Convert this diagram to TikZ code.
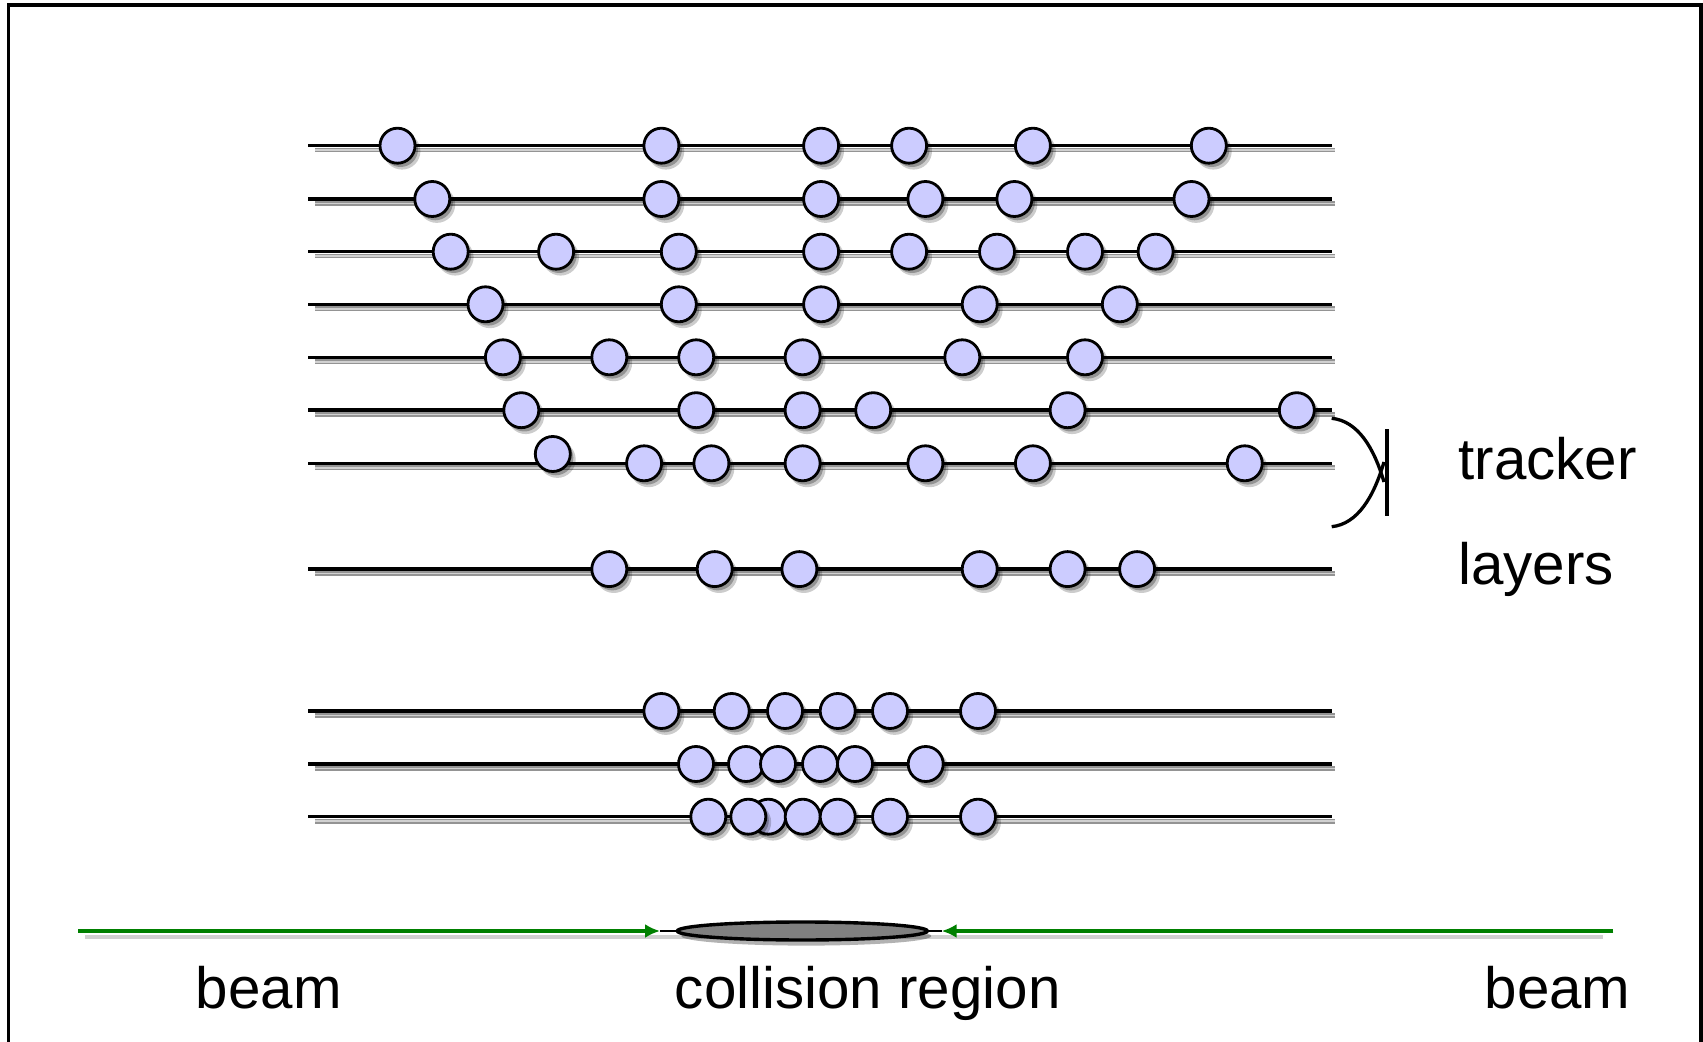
\documentclass[tikz,border=0pt]{standalone}
\usepackage{fontspec}
\setmainfont{Liberation Sans}
\usetikzlibrary{arrows.meta,shapes.geometric}
\definecolor{hitfill}{RGB}{204,204,255}
\definecolor{beamgreen}{RGB}{0,128,0}
\definecolor{collfill}{RGB}{128,128,128}
\definecolor{beamshadow}{RGB}{208,208,208}
\begin{document}
\begin{tikzpicture}[x=0.5pt,y=-0.5pt,
  layerline/.style={line width=1.75pt,black},
  layershadowA/.style={line width=2.3pt,black!42},
  layershadowB/.style={line width=0.8pt,black!18},
  hit/.style={fill=hitfill,draw=black,line width=1.4pt},
  hitshadowA/.style={fill=black,opacity=0.2},
  hitshadowB/.style={fill=black,opacity=0.28},
  lbl/.style={inner sep=0pt,font=\fontsize{29.15}{35}\selectfont},
  beamline/.style={line width=2pt,beamgreen,-{Latex[length=7.5pt,width=7pt]}},
  bracket/.style={line width=1.65pt,black},
  frame/.style={line width=1.7pt,black}
 ]
\path[use as bounding box] (0,0) rectangle (1703,1042);
\clip (0,0) rectangle (1703,1042);
\fill[white] (0,0) rectangle (1703,1042);
% frame (open at the bottom)
\draw[frame] (8.3,1060) -- (8.3,5) -- (1701,5) -- (1701,1060);

% tracker layers
\foreach \yy in {145.7,199,251.7,304.3,357.3,410.2,463.3,569.1,711,764,816.7}{
  \draw[layershadowA] (315,\yy+4.5) -- (1335,\yy+4.5);
  \draw[layershadowB] (315,\yy+4.5) -- (1335,\yy+4.5);
  \draw[layerline] (308.3,\yy) -- (1331.7,\yy);
}

% hits
\foreach \yy/\xs in {
  145.7/{397.5,661.4,821.1,909.1,1032.9,1208.8},
  199/{432.3,661.4,821.1,925.4,1014.4,1191.5},
  251.7/{450.7,556.1,678.8,821.1,909.1,997.0,1085.0,1155.6},
  304.3/{485.5,678.8,821.1,979.7,1119.8},
  357.3/{502.9,609.3,696.2,802.6,962.3,1085.0},
  410.2/{521.3,696.2,802.6,873.2,1067.6,1296.8},
  463.3/{644.1,711.4,802.6,925.4,1032.9,1244.7},
  569.1/{609.3,714.7,799.4,979.7,1067.6,1137.1},
  711/{661.4,731.7,785,837.7,890,978},
  764/{696,746,778,820,855,925.7},
  816.7/{768.3,708.3,748.3,802.7,837.7,890,978}}{
  \foreach \xx in \xs {
    \fill[hitshadowA] (\xx+4.5,\yy+5.5) circle[radius=9.2pt];
    \fill[hitshadowB] (\xx+3,\yy+3.8) circle[radius=8.75pt];
    \draw[hit] (\xx,\yy) circle[radius=8.75pt];
  }
}
% the raised hit on the seventh layer
\fill[hitshadowA] (552.8+4.5,454+5.5) circle[radius=9.2pt];
\fill[hitshadowB] (552.8+3,454+3.8) circle[radius=8.75pt];
\draw[hit] (552.8,454) circle[radius=8.75pt];

% bracket pointing at the tracker layers
\draw[bracket] (1331.7,418.3) .. controls (1358,421) and (1374,448) .. (1384,482);
\draw[bracket] (1331.7,526.7) .. controls (1358,524) and (1374,496) .. (1384,462);
\draw[line width=2pt] (1387,429.3) -- (1387,516);

% beams and collision region
\draw[line width=2pt,beamshadow] (85,937) -- (1603,937);
\fill[black,opacity=0.3] (806.3,936) ellipse[x radius=62.5pt,y radius=4.8pt];
\node[ellipse,draw=black,line width=1.7pt,fill=collfill,minimum width=125pt,minimum height=9pt,inner sep=0pt] (coll) at (802.3,931) {};
\coordinate (bL) at (78.3,931);
\coordinate (tipL) at (660,931);
\coordinate (bR) at (1613.3,931);
\coordinate (tipR) at (941.7,931);
\draw[beamline] (bL) -- (tipL);
\draw[beamline] (bR) -- (tipR);
\draw[line width=0.6pt] (tipL) -- (coll.west);
\draw[line width=0.6pt] (tipR) -- (coll.east);

% labels
\node[lbl,anchor=base] (beamleft) at (268.8,1008) {beam};
\node[lbl,anchor=base] (collision) at (867.8,1008) {collision region};
\node[lbl,anchor=base] (beamright) at (1557.5,1008) {beam};
\node[lbl,anchor=base west] (tracker) at (1458,479.3) {tracker};
\node[lbl,anchor=base west] (layers) at (1458,585) {layers};
\end{tikzpicture}
\end{document}
